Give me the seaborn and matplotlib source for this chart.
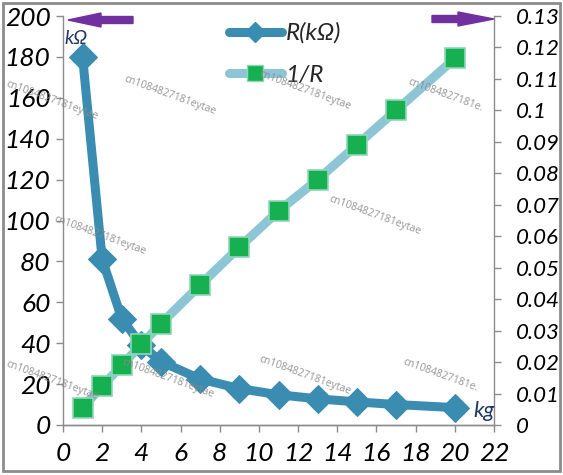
import matplotlib
matplotlib.use("Agg")
import matplotlib.pyplot as plt
import seaborn as sns
import pandas as pd
from matplotlib.patches import FancyArrow, Rectangle
from matplotlib.lines import Line2D
from matplotlib.ticker import FuncFormatter
from matplotlib.transforms import IdentityTransform

# ---- data ----
weight_kg = [1, 2, 3, 4, 5, 7, 9, 11, 13, 15, 17, 20]
resistance_kohm = [180, 81, 52, 39, 31, 22.5, 17.8, 14.8, 12.8, 11.3, 10.0, 8.5]
conductance = [0.0055, 0.0123, 0.0190, 0.0256, 0.0322, 0.0445, 0.0565, 0.0680,
               0.0780, 0.0890, 0.1000, 0.1165]
left_ticks = list(range(0, 201, 20))
right_ticks = [i / 100 for i in range(0, 14)]
x_ticks = list(range(0, 23, 2))
series_names = ["R(kΩ)", "1/R"]
watermark = "cn1084827181eytae"

df = pd.DataFrame({"kg": weight_kg, "R": resistance_kohm, "G": conductance})

sns.set_style("white")
plt.rcParams['font.family'] = ['Lato', 'DejaVu Sans']

W, H = 563, 475
fig = plt.figure(figsize=(W / 100, H / 100), dpi=100)
ax = fig.add_axes([63 / W, 1 - 425 / H, (494 - 63) / W, (425 - 16) / H])
ax2 = ax.twinx()

c_r = "#3a8db0"
c_gline = "#8ec5d6"
c_gmark = "#17b050"

sns.lineplot(data=df, x="kg", y="G", ax=ax2, color=c_gline, linewidth=6.5,
             marker="s", markersize=15, markerfacecolor=c_gmark,
             markeredgecolor="#8fd6b8", markeredgewidth=1.2, zorder=2)
sns.lineplot(data=df, x="kg", y="R", ax=ax, color=c_r, linewidth=6.5,
             marker="D", markersize=14, markerfacecolor=c_r,
             markeredgecolor=c_r, zorder=3)

ax.set_zorder(1)
ax2.set_zorder(2)
ax2.patch.set_visible(False)

ax.set_xlim(0, 22)
ax.set_ylim(0, 200)
ax2.set_ylim(0, 0.13)
ax.set_xticks(x_ticks)
ax.set_yticks(left_ticks)
ax2.set_yticks(right_ticks)
ax2.yaxis.set_major_formatter(FuncFormatter(lambda v, p: f"{v:g}"))
ax.set_xlabel("")
ax.set_ylabel("")
ax2.set_ylabel("")

spine_c = "#8c8c8c"
for a in (ax, ax2):
    a.spines["top"].set_visible(False)
    for s in ("left", "right", "bottom"):
        a.spines[s].set_color(spine_c)
        a.spines[s].set_linewidth(1.0)
    a.tick_params(direction="out", length=5, width=1, color=spine_c)
ax2.spines["left"].set_visible(False)
ax.spines["right"].set_visible(False)
ax.tick_params(axis="y", left=True, labelleft=True, pad=4)
ax.tick_params(axis="x", bottom=True, pad=7)
ax2.tick_params(axis="y", right=True, pad=11)
for lab in ax.get_xticklabels() + ax.get_yticklabels():
    lab.set_fontstyle("italic")
    lab.set_fontsize(19)
    lab.set_color("black")
for lab in ax2.get_yticklabels():
    lab.set_fontstyle("italic")
    lab.set_fontsize(16)
    lab.set_color("black")

# legend
h1 = Line2D([], [], color=c_r, linewidth=6.5, marker="D", markersize=10,
            markerfacecolor=c_r, markeredgecolor=c_r, solid_capstyle="round")
h2 = Line2D([], [], color=c_gline, linewidth=6.5, marker="s", markersize=12,
            markerfacecolor=c_gmark, markeredgecolor="#8fd6b8",
            solid_capstyle="round")
leg = fig.legend([h1, h2], series_names, loc="upper left",
                 bbox_to_anchor=(214 / W, 1 - 8 / H), frameon=False,
                 borderpad=0.1, handlelength=2.2, handletextpad=0.15,
                 labelspacing=0.85, prop={"size": 17.5, "style": "italic"})
leg.set_zorder(5)

# unit labels
fig.text(76 / W, 1 - 38 / H, "kΩ", color="#1f3864", fontsize=14,
         fontstyle="italic", ha="center", va="center")
fig.text(484 / W, 1 - 411 / H, "kg", color="#1f3864", fontsize=16,
         fontstyle="italic", ha="center", va="center")

# arrows (pixel coordinates)
purple = "#7030a0"
fig.patches.append(FancyArrow(133, H - 20, -65, 0, width=7, head_width=14,
                              head_length=33, length_includes_head=True,
                              color=purple, transform=IdentityTransform(),
                              figure=fig))
fig.patches.append(FancyArrow(432, H - 19, 62, 0, width=7, head_width=14,
                              head_length=36, length_includes_head=True,
                              color=purple, transform=IdentityTransform(),
                              figure=fig))

# watermarks
wm_pos = [(52, 100, watermark), (170, 95, watermark), (305, 90, watermark),
          (445, 95, "cn1084827181e."), (100, 235, watermark), (375, 215, watermark),
          (52, 380, watermark), (168, 378, watermark), (305, 375, watermark),
          (440, 375, "cn1084827181e.")]
for px, py, t in wm_pos:
    fig.text(px / W, 1 - py / H, t, color="#8a8a8a", fontsize=7.5,
             rotation=-20, ha="center", va="center", family="Open Sans",
             alpha=0.9, zorder=10)

# outer frame
fig.patches.append(Rectangle((3 / W, 4 / H), 1 - 6 / W, 1 - 7 / H,
                             transform=fig.transFigure, fill=False,
                             edgecolor="#8c8c8c", linewidth=2, figure=fig))

fig.savefig("out.png", dpi=100)
